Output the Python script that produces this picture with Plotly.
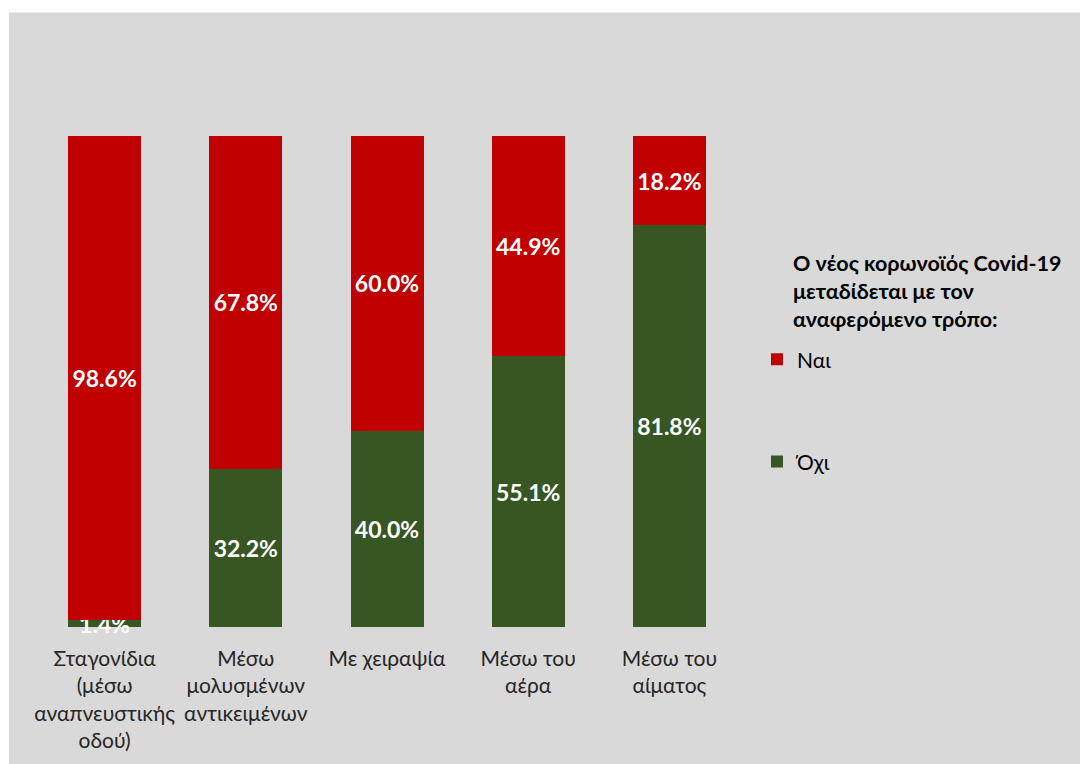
import plotly.graph_objects as go

# Transmission routes (category labels, line-broken as displayed)
categories = [
    "Σταγονίδια<br>(μέσω<br>αναπνευστικής<br>οδού)",
    "Μέσω<br>μολυσμένων<br>αντικειμένων",
    "Με χειραψία",
    "Μέσω του<br>αέρα",
    "Μέσω του<br>αίματος",
]
yes_pct = [98.6, 67.8, 60.0, 44.9, 18.2]   # Ναι
no_pct = [1.4, 32.2, 40.0, 55.1, 81.8]     # Όχι

legend_title = "Ο νέος κορωνοϊός Covid-19<br>μεταδίδεται με τον<br>αναφερόμενο τρόπο:"

RED = "#c00000"
GREEN = "#375623"
BG = "#d9d9d9"
FONT = "Lato, 'Open Sans', sans-serif"

W, H = 1080, 764
ML, MR, MT, MB = 34, 340, 136, 135
pw, ph = W - ML - MR, H - MT - MB


def px_x(p):
    return (p - ML) / pw


def px_y(p):
    return (H - MB - p) / ph


label_font = dict(color="white", size=23, family=FONT, weight="bold")

fig = go.Figure()
fig.add_trace(go.Bar(
    x=categories, y=no_pct, name="Όχι", legendrank=2, legendgroup="no",
    marker=dict(color=GREEN, line=dict(width=0)),
    text=[f"{v:.1f}%" for v in no_pct], textposition="inside",
    insidetextanchor="middle", textfont=label_font,
    cliponaxis=False,
))
fig.add_trace(go.Bar(
    x=categories, y=yes_pct, name="Ναι", legendrank=1, legendgroup="yes",
    marker=dict(color=RED, line=dict(width=0)),
    text=[f"{v:.1f}%" for v in yes_pct], textposition="inside",
    insidetextanchor="middle", textfont=label_font,
    cliponaxis=False,
))

fig.update_layout(
    width=W, height=H,
    barmode="stack", bargap=0.483,
    margin=dict(l=ML, r=MR, t=MT, b=MB),
    paper_bgcolor="white", plot_bgcolor="rgba(0,0,0,0)",
    font=dict(family=FONT, color="#262626", size=21),
    uniformtext=dict(minsize=23, mode="show"),
    showlegend=True,
    legend=dict(
        x=px_x(757), y=px_y(340), xanchor="left", yanchor="top",
        traceorder="grouped", tracegroupgap=72,
        font=dict(size=21, color="black"),
        bgcolor="rgba(0,0,0,0)", itemwidth=30,
    ),
    annotations=[dict(
        text="<b>" + legend_title + "</b>", xref="paper", yref="paper",
        x=px_x(791), y=px_y(248), xanchor="left", yanchor="top", align="left",
        showarrow=False, font=dict(size=21.5, color="black", family=FONT),
    )],
    xaxis=dict(showline=False, showgrid=False, ticks="", ticklabelstandoff=17,
               tickfont=dict(size=21, color="#262626")),
    yaxis=dict(range=[0, 100], visible=False),
    shapes=[dict(
        type="rect", xref="paper", yref="paper", layer="below",
        x0=px_x(9), x1=px_x(W + 5), y0=px_y(H + 5), y1=px_y(12),
        fillcolor=BG, line=dict(width=0),
    )],
)

fig.write_html("out.html")
